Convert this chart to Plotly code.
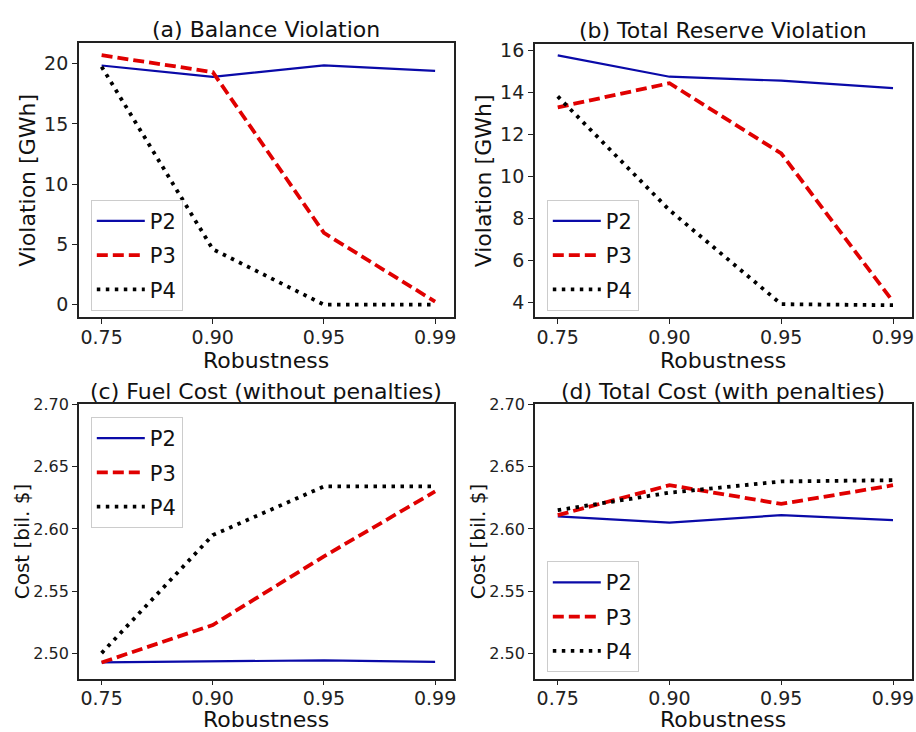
import plotly.graph_objects as go

robustness = ["0.75", "0.90", "0.95", "0.99"]
series_names = ["P2", "P3", "P4"]

balance_p2 = [19.85, 18.9, 19.85, 19.4]
balance_p3 = [20.7, 19.3, 5.95, 0.25]
balance_p4 = [19.75, 4.6, 0.0, 0.0]

reserve_p2 = [15.76, 14.74, 14.55, 14.2]
reserve_p3 = [13.28, 14.43, 11.08, 4.02]
reserve_p4 = [13.8, 8.38, 3.9, 3.85]

fuel_p2 = [2.493, 2.4937, 2.4947, 2.4934]
fuel_p3 = [2.493, 2.523, 2.578, 2.630]
fuel_p4 = [2.5005, 2.595, 2.634, 2.634]

total_p2 = [2.610, 2.605, 2.611, 2.607]
total_p3 = [2.611, 2.635, 2.620, 2.635]
total_p4 = [2.615, 2.629, 2.638, 2.639]

titles = ["(a) Balance Violation", "(b) Total Reserve Violation",
          "(c) Fuel Cost (without penalties)", "(d) Total Cost (with penalties)"]

FONT = "DejaVu Sans"
W, H = 916, 732

def px(x):
    return x / W

def py(y):
    return 1 - y / H

panels = [
    dict(data=[balance_p2, balance_p3, balance_p4], x0=79, x1=455, y0=34, y1=312,
         yrange=[-1.04, 21.75], ytick=[0, 5, 10, 15, 20], fmt="d", tickfs=19,
         ylabel="Violation [GWh]", ylx=28, ylfs=22, leg=(91, 193), xlab=44),
    dict(data=[reserve_p2, reserve_p3, reserve_p4], x0=536, x1=914, y0=35, y1=312,
         yrange=[3.28, 16.32], ytick=[4, 6, 8, 10, 12, 14, 16], fmt="d", tickfs=19,
         ylabel="Violation [GWh]", ylx=484, ylfs=22, leg=(548, 193), xlab=44),
    dict(data=[fuel_p2, fuel_p3, fuel_p4], x0=79, x1=455, y0=400, y1=678,
         yrange=[2.48, 2.70], ytick=[2.50, 2.55, 2.60, 2.65, 2.70], fmt=".2f", tickfs=16,
         ylabel="Cost [bil. $]", ylx=22, ylfs=20, leg=(91, 413), xlab=41),
    dict(data=[total_p2, total_p3, total_p4], x0=536, x1=914, y0=400, y1=678,
         yrange=[2.48, 2.70], ytick=[2.50, 2.55, 2.60, 2.65, 2.70], fmt=".2f", tickfs=16,
         ylabel="Cost [bil. $]", ylx=479, ylfs=20, leg=(548, 559), xlab=41),
]

styles = [
    dict(color="#0a0aa8", width=2.2, dash="solid"),
    dict(color="#e00000", width=3.8, dash="11px,5px"),
    dict(color="#000000", width=3.8, dash="3.5px,5.5px"),
]

fig = go.Figure()
xpos = list(range(len(robustness)))
annotations = []
layout = {}

for i, p in enumerate(panels):
    n = "" if i == 0 else str(i + 1)
    legname = "legend" + n
    for j, (name, st) in enumerate(zip(series_names, styles)):
        fig.add_trace(go.Scatter(
            x=xpos, y=p["data"][j], mode="lines", name=name,
            line=dict(color=st["color"], width=st["width"], dash=st["dash"]),
            xaxis="x" + n, yaxis="y" + n, legend=legname,
            legendgroup=f"{i}_{j}",
        ))
    layout["xaxis" + n] = dict(
        domain=[px(p["x0"]), px(p["x1"])], anchor="y" + n,
        range=[-0.205, 3.17], tickvals=xpos, ticktext=robustness,
        showline=True, mirror=True, linecolor="#222", linewidth=1.5,
        ticks="outside", ticklen=5, tickcolor="#222", showgrid=False, zeroline=False,
        ticklabelstandoff=-3,
        tickfont=dict(family=FONT, size=19, color="#222"),
    )
    layout["yaxis" + n] = dict(
        domain=[py(p["y1"]), py(p["y0"])], anchor="x" + n,
        range=p["yrange"], tickvals=p["ytick"],
        ticktext=[format(v, p["fmt"]) if p["fmt"] != "d" else str(int(v)) for v in p["ytick"]],
        showline=True, mirror=True, linecolor="#222", linewidth=1.5,
        ticks="outside", ticklen=5, tickcolor="#222", showgrid=False, zeroline=False,
        tickfont=dict(family=FONT, size=p["tickfs"], color="#222"),
    )
    layout[legname] = dict(
        x=px(p["leg"][0]), y=py(p["leg"][1]), xanchor="left", yanchor="top",
        bgcolor="rgba(255,255,255,0.8)", bordercolor="#cccccc", borderwidth=1,
        font=dict(family=FONT, size=21, color="#111"), itemwidth=48,
        tracegroupgap=4,
    )
    cx = (p["x0"] + p["x1"]) / 2
    annotations.append(dict(text=titles[i], x=px(cx), y=py(p["y0"] - 13), xref="paper", yref="paper",
                            xanchor="center", yanchor="middle", showarrow=False,
                            font=dict(family=FONT, size=22, color="#111")))
    annotations.append(dict(text="Robustness", x=px(cx), y=py(p["y1"] + p["xlab"]), xref="paper", yref="paper",
                            xanchor="center", yanchor="middle", showarrow=False,
                            font=dict(family=FONT, size=22, color="#111")))
    annotations.append(dict(text=p["ylabel"], x=px(p["ylx"]), y=py((p["y0"] + p["y1"]) / 2),
                            xref="paper", yref="paper", xanchor="center", yanchor="middle",
                            textangle=-90, showarrow=False,
                            font=dict(family=FONT, size=p["ylfs"], color="#111")))

fig.update_layout(
    width=W, height=H, margin=dict(l=0, r=0, t=0, b=0),
    paper_bgcolor="white", plot_bgcolor="white",
    showlegend=True, annotations=annotations, **layout,
)

post = (
    "document.documentElement.style.margin='0';"
    "document.body.style.margin='0';document.body.style.padding='0';"
    "document.body.style.overflow='hidden';"
    "var gd=document.getElementById('{plot_id}');"
    "gd.style.position='absolute';gd.style.left='0px';gd.style.top='0px';"
)
fig.write_html("out.html", post_script=post, config={"displayModeBar": False})
